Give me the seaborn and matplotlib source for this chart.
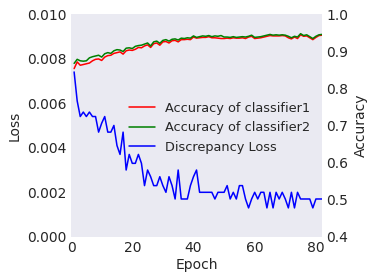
import numpy as np
import pandas as pd
import seaborn as sns
import matplotlib
matplotlib.use('Agg')
import matplotlib.pyplot as plt

# values
epochs = list(range(1, 83))

disc_loss = [0.0074, 0.0061, 0.0054, 0.0056, 0.0054, 0.0056, 0.0054, 0.0054, 0.0047, 0.0051,
             0.0054, 0.0047, 0.0047, 0.0050, 0.0041, 0.0037, 0.0047, 0.0030, 0.0037, 0.0033,
             0.0033, 0.0037, 0.0033, 0.0023, 0.0030, 0.0027, 0.0023, 0.0023, 0.0027, 0.0023,
             0.0020, 0.0027, 0.0023, 0.0017, 0.0030, 0.0017, 0.0017, 0.0017, 0.0023, 0.0027,
             0.0030, 0.0020, 0.0020, 0.0020, 0.0020, 0.0020, 0.0017, 0.0020, 0.0020, 0.0020,
             0.0023, 0.0017, 0.0020, 0.0017, 0.0023, 0.0023, 0.0017, 0.0013, 0.0017, 0.0020,
             0.0017, 0.0020, 0.0020, 0.0013, 0.0020, 0.0013, 0.0020, 0.0017, 0.0020, 0.0017,
             0.0013, 0.0020, 0.0013, 0.0020, 0.0017, 0.0017, 0.0017, 0.0017, 0.0013, 0.0017,
             0.0017, 0.0017]

acc_c1 = [0.853, 0.871, 0.862, 0.864, 0.866, 0.868, 0.874, 0.878, 0.879, 0.875,
          0.884, 0.888, 0.889, 0.894, 0.896, 0.898, 0.892, 0.901, 0.903, 0.902,
          0.905, 0.910, 0.909, 0.914, 0.917, 0.910, 0.920, 0.922, 0.916, 0.925,
          0.926, 0.922, 0.928, 0.929, 0.925, 0.931, 0.931, 0.932, 0.931, 0.938,
          0.935, 0.936, 0.937, 0.937, 0.939, 0.936, 0.936, 0.935, 0.934, 0.934,
          0.935, 0.934, 0.936, 0.935, 0.935, 0.936, 0.934, 0.938, 0.940, 0.934,
          0.935, 0.936, 0.938, 0.940, 0.942, 0.941, 0.941, 0.941, 0.942, 0.941,
          0.936, 0.933, 0.938, 0.934, 0.944, 0.940, 0.941, 0.936, 0.931, 0.937,
          0.942, 0.943]

acc_c2 = [0.867, 0.878, 0.874, 0.873, 0.874, 0.882, 0.885, 0.887, 0.889, 0.884,
          0.893, 0.896, 0.894, 0.901, 0.904, 0.903, 0.899, 0.908, 0.909, 0.907,
          0.913, 0.915, 0.916, 0.919, 0.922, 0.914, 0.925, 0.927, 0.921, 0.929,
          0.931, 0.927, 0.932, 0.933, 0.930, 0.935, 0.934, 0.936, 0.935, 0.941,
          0.937, 0.939, 0.941, 0.940, 0.942, 0.939, 0.941, 0.940, 0.942, 0.938,
          0.938, 0.937, 0.939, 0.937, 0.938, 0.939, 0.938, 0.940, 0.943, 0.937,
          0.938, 0.939, 0.941, 0.943, 0.945, 0.943, 0.944, 0.943, 0.944, 0.943,
          0.940, 0.936, 0.940, 0.938, 0.947, 0.942, 0.944, 0.939, 0.934, 0.940,
          0.944, 0.945]

df = pd.DataFrame({'Epoch': epochs, 'Loss': disc_loss,
                   'Acc1': acc_c1, 'Acc2': acc_c2})

sns.set_style('dark')
plt.rcParams['font.family'] = ['DejaVu Sans']

fig = plt.figure(figsize=(3.74, 2.8), dpi=100)
ax = fig.add_axes([0.19, 0.154, 0.671, 0.796])
ax2 = ax.twinx()

sns.lineplot(data=df, x='Epoch', y='Loss', ax=ax, color='blue',
             linewidth=1.1, label='Discrepancy Loss', legend=False)
sns.lineplot(data=df, x='Epoch', y='Acc1', ax=ax2, color='red',
             linewidth=1.1, label='Accuracy of classifier1', legend=False)
sns.lineplot(data=df, x='Epoch', y='Acc2', ax=ax2, color='green',
             linewidth=1.1, label='Accuracy of classifier2', legend=False)

ax.set_xlim(0, 82)
ax.set_ylim(0, 0.010)
ax.set_yticks([0, 0.002, 0.004, 0.006, 0.008, 0.010])
ax.set_yticklabels(['0.000', '0.002', '0.004', '0.006', '0.008', '0.010'])
ax.set_xticks([0, 20, 40, 60, 80])
ax2.set_ylim(0.4, 1.0)
ax2.set_yticks([0.4, 0.5, 0.6, 0.7, 0.8, 0.9, 1.0])

ax.set_xlabel('Epoch', fontsize=10, labelpad=2)
ax.set_ylabel('Loss', fontsize=10)
ax2.set_ylabel('Accuracy', fontsize=10)
ax.tick_params(labelsize=10, length=0, pad=3)
ax2.tick_params(labelsize=10, length=0, pad=3)
ax.grid(False)
ax2.grid(False)
for a in (ax, ax2):
    for s in a.spines.values():
        s.set_visible(False)

h2, l2 = ax2.get_legend_handles_labels()
h1, l1 = ax.get_legend_handles_labels()
ax2.legend(h2 + h1, l2 + l1, loc='center right', bbox_to_anchor=(1.0, 0.49),
           frameon=False, fontsize=9.3, handlelength=2.0, handletextpad=0.8,
           labelspacing=0.5)

plt.savefig('out.png', dpi=100)
